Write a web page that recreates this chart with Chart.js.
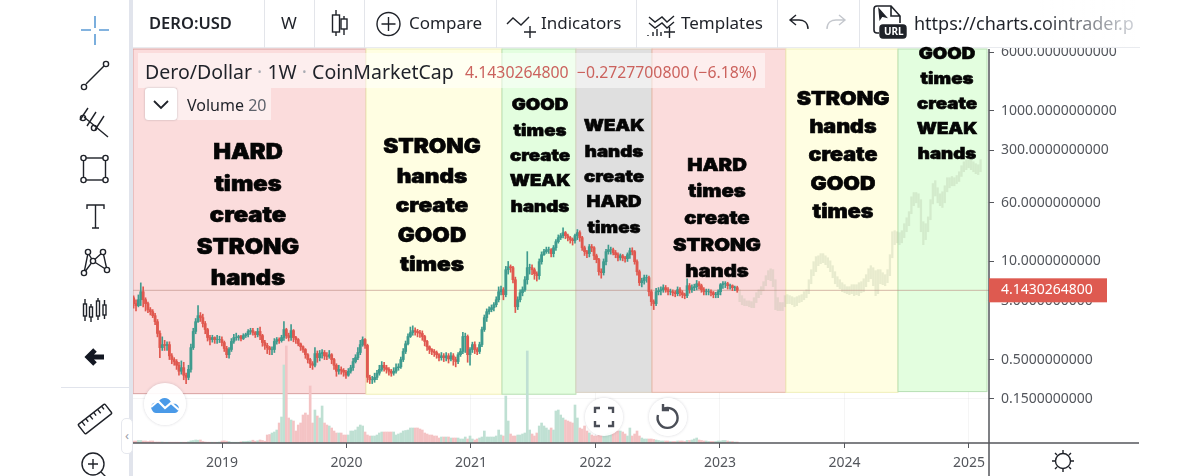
<!DOCTYPE html>
<html>
<head>
<meta charset="utf-8">
<title>Dero/Dollar</title>
<script src="https://cdn.jsdelivr.net/npm/chart.js@4/dist/chart.umd.min.js"></script>
<style>
    html, body { margin: 0; padding: 0; background: #fff; width: 1200px; height: 476px; overflow: hidden; }
    body { position: relative; font-family: "Noto Sans", sans-serif; color: #1f2229; }
    #chart { position: absolute; left: 0; top: 0; }
    .abs { position: absolute; white-space: nowrap; }
    .sep { position: absolute; top: 0; width: 1px; height: 48px; background: #e3e5ea; }
    .tb { font-size: 17px; line-height: 24px; top: 11px; }
    svg { position: absolute; overflow: visible; fill: none; stroke: #1f2229; stroke-width: 1.4; }
    .note { position: absolute; transform: translateX(-50%) scaleX(1.13); text-align: center; font-family: Inter, sans-serif; font-weight: 900; color: #050505; -webkit-text-stroke: .6px #050505; }
    .round { position: absolute; border-radius: 50%; background: rgba(255,255,255,.92); box-shadow: 0 0 3px rgba(60,60,80,.22); }
</style>
</head>
<body>
<canvas id="chart" width="1200" height="476"></canvas>

<!-- left toolbar -->
<div class="abs" style="left:0;top:0;width:129px;height:476px;background:#fff"></div>
<div class="abs" style="left:129px;top:0;width:4px;height:476px;background:#e1e4ec"></div>
<div class="abs" style="left:61px;top:387px;width:68px;height:1px;background:#e1e4ec"></div>
<div class="abs" style="left:121px;top:418px;width:10px;height:34px;background:#fff;border:1px solid #e6e8ee;border-radius:5px;font-size:13px;line-height:32px;text-align:center;color:#9a9ea8">‹</div>
<svg style="left:0;top:0" width="129" height="476">
    <g stroke="#5b9bd5" stroke-width="1.6"><path d="M95 16v12M95 34v11M81 30h10M99 30h10"/></g>
    <path d="M86 84L104 66"/><circle cx="84" cy="87" r="2.6"/><circle cx="106" cy="64" r="2.6"/>
    <path d="M84 117l24 20M88 108l-8 12M96 112l-9 14M104 116l-9 14"/><circle cx="83" cy="118" r="2.6"/><circle cx="94" cy="128" r="2.6"/>
    <rect x="83.500" y="158" width="22" height="22"/><circle cx="83.500" cy="158" r="2.6" fill="#fff"/><circle cx="105.500" cy="158" r="2.6" fill="#fff"/><circle cx="83.500" cy="180" r="2.6" fill="#fff"/><circle cx="105.500" cy="180" r="2.6" fill="#fff"/>
    <path d="M87 209v-4h17v4M95.500 205v23M92 228h7"/>
    <path d="M84 273l4-20 5 8-9 12M93 261l10-9 4 18-14-9"/><circle cx="84" cy="273" r="2.6" fill="#fff"/><circle cx="88" cy="252" r="2.6" fill="#fff"/><circle cx="93" cy="261" r="2.6" fill="#fff"/><circle cx="103" cy="252" r="2.6" fill="#fff"/><circle cx="107" cy="270" r="2.6" fill="#fff"/>
    <path d="M85 299v5M85 316v5M91 304v3M91 317v5M98 298v3M98 316v4M104.500 300v5M104.500 315v4"/><rect x="83.500" y="304" width="3" height="12"/><rect x="89.500" y="307" width="3" height="10"/><rect x="96.500" y="301" width="3" height="15"/><rect x="103" y="305" width="3" height="10"/>
    <path d="M104 357H90M95 350l-7 7 7 7" stroke-width="5" stroke="#131722"/>
    <g transform="rotate(-38 95 419)"><rect x="78" y="413" width="34" height="12" rx="1"/><path d="M83 413v5M88 413v4M93 413v5M98 413v4M103 413v5M108 413v4"/></g>
    <circle cx="93" cy="464" r="11"/><path d="M93 459v10M88 464h10M101 472l6 6"/>
</svg>

<!-- top toolbar -->
<div class="abs" style="left:133px;top:0;width:1007px;height:48px;background:linear-gradient(90deg,#fff 90%,rgba(255,255,255,.96));border-bottom:1px solid #e9ebef;box-sizing:border-box"></div>
<div class="sep" style="left:264px"></div><div class="sep" style="left:314px"></div><div class="sep" style="left:364px"></div>
<div class="sep" style="left:496px"></div><div class="sep" style="left:636px"></div><div class="sep" style="left:777px"></div><div class="sep" style="left:859px"></div>
<div class="abs tb" style="left:149px;font-weight:600;font-size:16.500px">DERO:USD</div>
<div class="abs tb" style="left:281px">W</div>
<div class="abs tb" style="left:409px">Compare</div>
<div class="abs tb" style="left:541px">Indicators</div>
<div class="abs tb" style="left:681px">Templates</div>
<div class="abs tb" style="left:914px;font-size:18px;background:linear-gradient(90deg,#1f2229 55%,#c9ccd2 98%);-webkit-background-clip:text;color:transparent">https://charts.cointrader.p</div>
<svg style="left:0;top:0" width="1200" height="48">
    <path d="M336 10v26M344 16v19"/><rect x="332.500" y="15" width="7" height="17" fill="#fff"/><rect x="341" y="19" width="6" height="10" fill="#fff"/>
    <circle cx="388.500" cy="24" r="11.500"/><path d="M388.500 17v14M381.500 24h14"/>
    <path d="M507 24l6-6 8 7 8-8M524 32h12M530 26v12"/>
    <path d="M649 17l6 5 7-5 5 5 7-6M649 23l6 5 7-5 5 5 7-6M648 36v-1M653 36v-4M657 36v-7M661 36v-4M664 32h11M669.500 27v11"/>
    <path d="M808 29c0-7-5-9-9-9h-8M796 15l-6 5 6 5"/>
    <g stroke="#c4c7cd"><path d="M827 29c0-7 5-9 9-9h8M839 15l6 5-6 5"/></g>
    <path d="M879 33H877a3 3 0 0 1-3-3V9a3 3 0 0 1 3-3h14l9 10v7M891 6v10h9" stroke-width="1.6"/>
    <path d="M879 9l1 10 2-3 4 1z" fill="#1f2229"/>
    <rect x="880" y="25" width="26" height="13" rx="3" fill="#1f2229"/>
</svg>
<div class="abs" style="left:884px;top:24px;font-size:10px;font-weight:700;color:#fff;line-height:15px">URL</div>

<!-- legend -->
<div class="abs" style="left:138px;top:53px;width:627px;height:35px;background:rgba(255,255,255,.5)"></div>
<div class="abs" style="left:145px;top:57px;font-size:19.500px;line-height:30px">Dero/Dollar <span style="color:#a9acb3">·</span> 1W <span style="color:#a9acb3">·</span> CoinMarketCap</div>
<div class="abs" style="left:465px;top:58px;font-size:15.800px;line-height:28px;color:#cb625d">4.1430264800 &nbsp;−0.2727700800 (−6.18%)</div>
<div class="abs" style="left:177px;top:88px;width:94px;height:32px;background:rgba(255,255,255,.5)"></div>
<div class="abs" style="left:145px;top:88px;width:32px;height:32px;background:#fff;border-radius:3px;box-shadow:0 0 2px rgba(80,80,90,.4)"></div>
<svg style="left:145px;top:88px" width="32" height="32"><path d="M9 13l7 7 7-7" stroke-width="1.800"/></svg>
<div class="abs" style="left:187px;top:92px;font-size:16px;line-height:26px">Volume <span style="color:#5f636c">20</span></div>

<div id="notes"></div>

<!-- floating buttons -->
<div class="round" style="left:144px;top:383px;width:42px;height:42px"></div>
<svg style="left:144px;top:383px" width="42" height="42">
    <path d="M8 27c-3-5 2-9 6-7 2-6 10-7 13-1 2 3 3 1 5 2 4 2 4 8-1 9H12c-2 0-3-1-4-3z" fill="#4a9ae8" stroke="none"/>
    <path d="M7 24l7-6 7 7 6-5 8 7" stroke="#fff" stroke-width="2.200"/>
</svg>
<div class="round" style="left:585px;top:398px;width:38px;height:38px"></div>
<svg style="left:585px;top:398px" width="38" height="38" stroke-width="2">
    <g style="stroke:#4a4e57;stroke-width:2.400"><path d="M10 15v-5h5M23 10h5v5M28 23v5h-5M15 28h-5v-5"/></g>
</svg>
<div class="round" style="left:649px;top:398px;width:38px;height:38px"></div>
<svg style="left:649px;top:398px" width="38" height="38">
    <g style="stroke:#4a4e57;stroke-width:2.400"><path d="M14 11a10 10 0 1 1-5 6M14 6v6h6"/></g>
</svg>

<!-- settings -->
<svg style="left:1050px;top:448px" width="26" height="26">
    <circle cx="13" cy="13" r="7.500"/><path d="M13 2v3M13 21v3M2 13h3M21 13h3M5 5l2 2M19 19l2 2M5 21l2-2M19 7l2-2"/>
</svg>

<script>
// weekly candles
const firstOpen = 3.3;
const closes = [
    2.76,2.59,3.11,3.97,3.11,2.76,2.30,2.16,1.91,1.59,
    1.11,.72,.79,.77,.79,.56,.50,.47,.42,.35,
    .39,.31,.29,.37,.72,1.18,1.59,1.91,1.80,1.50,
    1.25,.98,.92,.98,.92,.92,.92,.84,.70,.58,
    .68,.87,.98,.98,1.01,.95,1.04,1.07,1.18,1.21,
    1.14,1.07,1.18,1.04,.84,.77,.72,.68,.68,.87,
    .92,.89,.98,1.25,1.04,.98,1.21,.98,.92,.81,
    .74,.68,.58,.50,.44,.42,.60,.53,.60,.62,
    .56,.55,.58,.50,.42,.35,.37,.36,.34,.31,
    .35,.39,.47,.53,.62,.79,.92,.77,.29,.27,
    .27,.29,.33,.37,.42,.39,.37,.35,.33,.35,
    .39,.40,.50,.64,.81,1.01,1.14,1.21,1.18,1.14,
    1.11,1.01,.87,.74,.68,.64,.62,.58,.53,.56,
    .53,.56,.51,.56,.50,.47,.58,.64,1.01,1.01,
    .58,.68,.79,.68,.64,.79,1.25,1.80,2.16,2.30,
    2.44,2.67,3.11,3.97,4.22,3.63,7.78,8.5,8.27,5.73,
    2.51,3.11,3.85,4.22,5.73,8.27,8.27,7.78,6.88,6.48,
    9.94,12.3,13.5,14.3,14.3,12.7,15.2,18.3,20.7,22.0,
    24.1,22.0,20.7,19.5,18.9,22.0,24.1,20.7,15.2,13.5,
    12.7,15.7,15.2,11.9,10.6,7.32,7.1,9.94,13.5,14.3,
    14.3,13.1,12.3,11.2,11.9,11.2,10.9,12.3,13.9,13.5,
    9.94,7.32,5.23,5.56,6.09,6.09,3.97,2.93,2.76,3.97,
    4.09,4.22,4.49,4.22,3.97,3.97,3.85,3.74,4.22,3.85,
    3.63,3.52,4.77,4.22,4.49,4.63,5.07,4.77,4.22,3.97,
    3.97,3.97,3.85,3.63,3.63,3.97,4.92,5.07,5.07,4.77,
    4.77,4.49,4.49,4.143
];
const highs = [
    3.5,3.1,3.6,5.2,4.6,3.3,2.9,2.45,2.3,2.05,
    1.7,1.2,1.0,.9,.86,.86,.6,.53,.5,.46,
    .48,.46,.33,.42,.8,1.3,1.75,2.6,2.1,2.0,
    1.6,1.3,1.05,1.05,1.0,1.05,1.02,1.0,.88,.75,
    .72,.95,1.08,1.12,1.05,1.05,1.1,1.12,1.25,1.3,
    1.3,1.18,1.3,1.35,1.08,.9,.82,.75,.74,.95,
    .98,.97,1.05,1.6,1.3,1.12,1.45,1.25,1.02,.95,
    .83,.76,.7,.6,.52,.47,.72,.65,.66,.68,
    .66,.62,.66,.6,.52,.44,.42,.4,.38,.36,
    .38,.42,.52,.58,.72,.9,1.0,.95,.8,.31,
    .3,.33,.36,.42,.47,.46,.42,.39,.37,.39,
    .44,.44,.54,.7,.88,1.1,1.35,1.4,1.32,1.26,
    1.22,1.2,1.05,.9,.76,.7,.68,.65,.6,.62,
    .6,.62,.6,.62,.6,.54,.62,.7,1.15,1.12,
    1.06,.72,.85,.86,.72,.85,1.35,1.95,2.35,2.5,
    2.65,2.85,3.4,4.6,4.7,4.5,8.6,10.0,9.0,8.6,
    6.2,3.4,4.2,4.6,6.3,13.5,9.2,9.0,8.2,7.3,
    10.8,13.4,14.5,15.5,15.5,14.8,16.3,19.5,22.5,23.5,
    28,25,23,21.5,20.5,23,26.5,25.5,21.5,16,
    14,16.8,16.8,15.7,12.5,11,8,10.8,14.5,16.5,
    15.5,15,14,13,12.6,12.4,11.7,13,15,15.2,
    14,10.5,7.7,6,6.6,6.6,6.4,4.2,3.1,4.4,
    4.5,4.6,4.9,4.8,4.5,4.3,4.2,4.1,4.6,4.5,
    4.1,3.8,5.9,5.1,4.9,5.0,5.6,5.4,5.0,4.5,
    4.3,4.3,4.2,4.0,3.9,4.2,5.1,5.4,5.4,5.3,
    5.0,4.9,4.7,4.7
];
const lows = [
    2.4,2.2,2.5,2.6,2.5,2.2,2.1,1.95,1.8,1.45,
    1.0,.53,.66,.66,.66,.5,.44,.42,.37,.31,
    .32,.27,.24,.27,.34,.68,1.1,1.55,1.6,1.35,
    1.1,.88,.78,.85,.82,.82,.84,.76,.64,.53,
    .52,.64,.82,.9,.9,.88,.92,.98,1.0,1.08,
    1.05,.98,1.0,.92,.75,.68,.6,.58,.58,.62,
    .8,.82,.85,.9,.95,.88,.9,.86,.82,.76,
    .66,.62,.52,.45,.39,.37,.4,.46,.48,.52,
    .5,.5,.52,.44,.37,.3,.32,.32,.3,.28,
    .3,.33,.36,.45,.5,.58,.75,.7,.25,.24,
    .24,.25,.27,.31,.35,.35,.33,.31,.3,.31,
    .33,.36,.38,.47,.6,.78,.98,1.05,1.05,1.0,
    .98,.9,.76,.66,.6,.58,.55,.52,.48,.49,
    .47,.48,.45,.48,.42,.4,.44,.55,.6,.62,
    .46,.42,.62,.6,.58,.6,.74,1.18,1.6,2.0,
    2.15,2.2,2.5,2.9,3.6,3.1,3.4,6.8,7.2,5.2,
    2.1,2.3,2.9,3.5,4.0,5.0,6.8,6.7,5.8,5.5,
    5.8,9.2,12,12.8,12.8,11.5,11.5,14,17.5,19.5,
    20.5,20,18.8,17.5,16.5,17.5,19.5,18.5,14,12,
    11.2,11.5,13.5,10.6,9.6,6.6,6.0,6.6,9,12.5,
    12.5,12.2,11.2,10.2,10.4,10.2,9.8,10,11,12.2,
    9.2,6.6,4.8,4.6,5,5.3,3.5,2.6,2.3,2.6,
    3.6,3.6,3.9,3.9,3.6,3.6,3.5,3.4,3.5,3.5,
    3.3,3.2,3.3,3.8,3.9,4.1,4.2,4.3,3.9,3.6,
    3.6,3.6,3.5,3.3,3.3,3.3,3.6,4.4,4.5,4.3,
    4.3,4.1,4.1,3.9
];
const volumes = [
    20,20,25,25,20,20,15,20,20,10,
    10,10,10,8,8,8,8,8,8,8,
    8,8,8,12,22,25,30,28,30,15,
    10,8,8,8,8,8,10,20,22,18,
    15,8,8,8,8,12,15,15,18,20,
    28,18,22,30,25,18,80,85,100,110,
    130,200,260,780,970,250,230,220,120,180,
    200,280,300,280,570,200,330,270,250,370,
    200,180,170,150,120,100,100,100,80,80,
    80,120,120,130,160,180,170,110,80,70,
    70,70,80,100,110,110,110,110,110,110,
    80,90,100,120,125,130,150,150,150,150,
    140,130,100,90,80,80,70,70,50,60,
    60,60,60,50,50,50,50,40,40,60,
    40,70,40,30,40,50,60,120,60,60,
    60,60,70,130,80,70,470,220,90,70,
    70,80,80,90,100,920,130,90,70,100,
    170,200,170,150,130,150,130,320,330,280,
    250,230,220,210,200,380,250,150,140,170,
    120,100,80,70,70,80,80,80,90,100,
    110,110,120,120,120,110,90,70,150,70,
    90,120,70,50,40,40,40,40,35,30,
    25,20,20,20,20,15,15,15,20,20,
    20,15,25,25,30,40,50,30,25,20,
    20,15,15,15,15,20,20,25,25,20,
    15,15,10,10
];
// pale projected path after the last real candle
const ghostHighs = [
    4.22,3.52,3.2,3.0,3.0,2.93,3.31,3.85,4.22,4.63,
    5.39,6.48,7.55,8.0,7.78,5.73,3.31,2.85,2.85,3.52,
    3.63,3.52,3.41,3.31,3.41,3.52,3.63,3.97,4.22,5.73,
    7.78,9.94,11.6,11.9,12.7,12.7,11.9,11.2,10.2,8.79,
    7.32,6.28,5.73,5.23,4.92,4.63,4.63,4.92,4.92,4.92,
    5.23,5.39,5.9,6.68,8.0,8.79,8.27,7.55,7.78,7.78,
    7.1,6.68,7.78,12.3,24.8,25.6,24.8,24.1,25.6,31.7,
    38,45.8,72,82,82,79,66,33.7,31.7,39,
    66,108,118,95,79,84,101,129,129,134,
    129,138,155,186,210,224,224,224,210,198,
    192,224
];
const ghostLows = [
    2.93,2.67,2.59,2.59,2.51,2.44,2.44,2.85,3.31,3.63,
    4.09,4.77,5.73,5.56,4.63,2.3,2.23,2.23,2.23,2.51,
    2.76,2.76,2.67,2.51,2.59,2.85,2.93,3.11,3.31,3.74,
    5.07,6.48,7.32,8.79,9.35,9.64,9.07,8.27,7.32,6.09,
    5.07,4.63,4.35,3.97,3.85,3.74,3.63,3.74,3.52,3.63,
    3.52,3.85,3.97,4.63,5.39,5.9,4.77,3.52,3.74,5.07,
    4.92,4.77,5.23,6.48,11.2,16.7,17.7,16.7,17.7,20.7,
    24.8,29.8,43,55,60,52,24.8,16.7,19.5,24.8,
    35.8,58,74,60,55,52,60,84,95,101,
    101,108,115,134,155,165,175,165,155,146,
    142,155
];
const lastPrice = 4.143026480;
const firstWeek = 2018.29;
const weekStep = 1 / 52.18;
const yearTicks = [2019, 2020, 2021, 2022, 2023, 2024, 2025];
const priceTicks = [6000, 1000, 300, 60, 10, 3, 0.5, 0.15];

// hand drawn boxes over the chart
const regionStarts = [2018.285, 2020.157, 2021.249, 2021.843, 2022.454, 2023.53, 2024.43];
const regionEnds = [2020.157, 2021.249, 2021.843, 2022.454, 2023.53, 2024.43, 2025.145];
const regionBottoms = [0.1765, 0.1734, 0.1734, 0.1837, 0.1837, 0.1837, 0.1880];
const regionFills = ['#fbdcdc', '#fffee2', '#e3fedf', '#dfdfdf', '#fbdcdc', '#fffee2', '#e3fedf'];
const regionEdges = ['#d9a0a0', '#f0efb8', '#b7dfb3', '#d8cfc0', '#e5b7a8', '#f0efb8', '#b7dfb3'];

const notes = [
    [['HARD', 'times', 'create', 'STRONG', 'hands'], 248, 152, 31.500, 21],
    [['STRONG', 'hands', 'create', 'GOOD', 'times'], 432, 147, 29.500, 20],
    [['GOOD', 'times', 'create', 'WEAK', 'hands'], 540, 105, 25.300, 16.500],
    [['WEAK', 'hands', 'create', 'HARD', 'times'], 614, 126, 25.300, 16.500],
    [['HARD', 'times', 'create', 'STRONG', 'hands'], 717, 165, 26.700, 18],
    [['STRONG', 'hands', 'create', 'GOOD', 'times'], 843, 99, 28.300, 19],
    [['GOOD', 'times', 'create', 'WEAK', 'hands'], 947, 53, 25, 16.500]
];

notes.forEach(([lines, cx, y, step, size]) => {
    let div = document.createElement('div');
    div.className = 'note';
    div.style.cssText = `left:${cx}px;top:${y - step / 2}px;font-size:${size}px;line-height:${step}px`;
    div.innerHTML = lines.join('<br>');
    document.getElementById('notes').appendChild(div);
});

const weekX = i => firstWeek + i * weekStep;
const opens = [firstOpen].concat(closes.slice(0, -1));
const candleColors = closes.map((c, i) => c >= opens[i] ? '#3f9b8e' : '#e0584f');
const volumeColors = closes.map((c, i) => c >= opens[i] ? '#bfe0d3' : '#f4c3c4');
const ghostStart = closes.length;

const regionPlugin = {
    id: 'regions',
    beforeDatasetsDraw(chart) {
        const {ctx, scales: {x, y}, chartArea} = chart;
        ctx.save();
        regionStarts.forEach((s, i) => {
            let left = x.getPixelForValue(s);
            let right = x.getPixelForValue(regionEnds[i]);
            let bottom = y.getPixelForValue(regionBottoms[i]);
            ctx.fillStyle = regionFills[i];
            ctx.fillRect(left, chartArea.top, right - left, bottom - chartArea.top);
            ctx.strokeStyle = regionEdges[i];
            ctx.lineWidth = 1;
            ctx.strokeRect(left, chartArea.top, right - left, bottom - chartArea.top);
        });
        ctx.restore();
    },
    afterDraw(chart) {
        const {ctx, scales: {y}, chartArea} = chart;
        ctx.save();
        ctx.strokeStyle = '#55575c';
        ctx.lineWidth = 1.5;
        ctx.beginPath();
        ctx.moveTo(chartArea.right, chartArea.top);
        ctx.lineTo(chartArea.right, 476);
        ctx.moveTo(chartArea.left, chartArea.bottom);
        ctx.lineTo(1139, chartArea.bottom);
        ctx.stroke();
        let py = y.getPixelForValue(lastPrice);
        ctx.fillStyle = '#de5a50';
        ctx.fillRect(chartArea.right, py - 12, 118, 24);
        ctx.fillStyle = '#fff';
        ctx.font = '14px "Noto Sans"';
        ctx.textBaseline = 'middle';
        ctx.fillText(lastPrice.toFixed(10), chartArea.right + 12, py);
        ctx.restore();
    }
};

new Chart(document.getElementById('chart'), {
    data: {
        datasets: [
            {
                type: 'bar', yAxisID: 'vol', order: 5, barThickness: 2, grouped: false,
                data: volumes.map((v, i) => ({x: weekX(i), y: v})),
                backgroundColor: volumeColors
            },
            {
                type: 'bar', yAxisID: 'y', order: 4, barThickness: 1.6, grouped: false,
                data: ghostHighs.map((h, i) => ({x: weekX(ghostStart + i), y: [ghostLows[i], h]})),
                backgroundColor: 'rgba(165,180,150,.26)'
            },
            {
                type: 'line', yAxisID: 'y', order: 3, pointRadius: 0, borderWidth: 1,
                borderColor: 'rgba(185,135,125,.6)',
                data: [{x: 2018.285, y: lastPrice}, {x: 2025.161, y: lastPrice}]
            },
            {
                type: 'bar', yAxisID: 'y', order: 2, barThickness: 1, grouped: false,
                data: closes.map((c, i) => ({x: weekX(i), y: [lows[i], highs[i]]})),
                backgroundColor: candleColors
            },
            {
                type: 'bar', yAxisID: 'y', order: 1, barThickness: 2.2, grouped: false,
                data: closes.map((c, i) => ({x: weekX(i), y: [opens[i], c]})),
                backgroundColor: candleColors
            }
        ]
    },
    options: {
        responsive: false,
        animation: false,
        layout: {padding: {left: 133, top: 49, right: 0, bottom: 0}},
        plugins: {legend: {display: false}, tooltip: {enabled: false}},
        scales: {
            x: {
                type: 'linear',
                offset: false,
                min: 2018.285,
                max: 2025.161,
                afterFit(scale) { scale.height = 33; },
                afterBuildTicks(scale) { scale.ticks = yearTicks.map(v => ({value: v})); },
                grid: {offset: false, color: 'rgba(110,110,110,.07)', tickLength: 5, tickColor: '#55575c'},
                border: {display: false},
                ticks: {
                    autoSkip: false, maxRotation: 0, padding: 7, color: '#53565c',
                    font: {family: 'Noto Sans', size: 14},
                    callback: v => String(v)
                }
            },
            y: {
                type: 'logarithmic',
                position: 'right',
                min: 0.0391,
                max: 6578,
                afterFit(scale) { scale.width = 211; },
                afterBuildTicks(scale) { scale.ticks = priceTicks.map(v => ({value: v})); },
                grid: {color: 'rgba(110,110,110,.07)', tickLength: 5, tickColor: '#55575c'},
                border: {display: false},
                ticks: {
                    autoSkip: false, padding: 7, color: '#53565c',
                    font: {family: 'Noto Sans', size: 14},
                    callback: v => v.toFixed(10)
                }
            },
            vol: {display: false, min: 0, max: 3940}
        }
    },
    plugins: [regionPlugin]
});
</script>
</body>
</html>
